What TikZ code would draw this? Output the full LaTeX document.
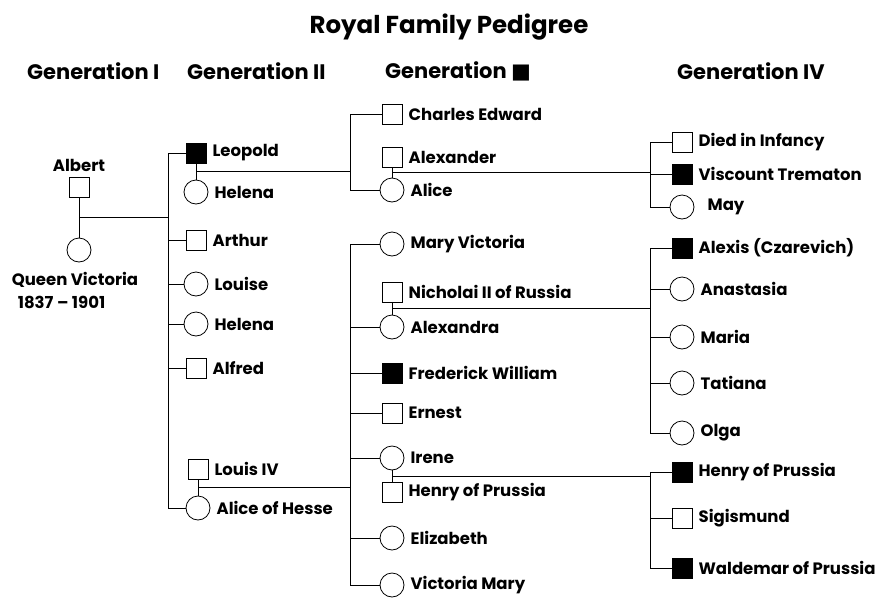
\documentclass[tikz,border=0pt]{standalone}
\usepackage{fontspec}
\setmainfont{Poppins}
\newfontfamily\symfont{DejaVu Sans}
\usetikzlibrary{positioning,shapes.geometric}
\tikzset{
    person/.style={
        draw=black,
        line width=0.8pt,
        inner sep=0pt
    },
    male/.style={person, rectangle, minimum size=20pt},
    female/.style={person, circle, minimum size=24pt},
    affected/.style={male, fill=black},
    lbl/.style={
        font=\bfseries\fontsize{16.5}{19}\selectfont,
        inner sep=1pt,
        label distance=5pt
    },
    heading/.style={
        anchor=west,
        inner sep=0pt,
        font=\bfseries\fontsize{21}{23}\selectfont
    },
    link/.style={line width=0.8pt}
}

\begin{document}
\begin{tikzpicture}[x=1pt,y=1pt]
    \useasboundingbox (0,0) rectangle (879,-598);
    % headings
    \node (title) [font=\bfseries\fontsize{24.5}{26}\selectfont] at (449,-27) {Royal Family Pedigree};
    \node (genI) [heading] at (27,-71) {Generation I};
    \node (genII) [heading] at (187,-71) {Generation II};
    \node (genIII) [heading] at (385,-71) {Generation {\symfont ■}};
    \node (genIV) [heading] at (677,-71) {Generation IV};
    % bars of the sibships
    \coordinate (barII) at (168,0);
    \coordinate (barIII) at (350,0);
    \coordinate (barIV) at (650,0);
    % generation I
    \node (albert) [male, label={[lbl, label distance=4pt]above:Albert}] at (79,-187) {};
    \node (victoria) [female, label={[lbl, label distance=9pt, xshift=-4pt, align=left, font=\bfseries\fontsize{16.5}{23}\selectfont]below:Queen Victoria\\\hspace{6pt}1837 – 1901}] at (79,-250) {};
    % generation II
    \node (leopold) [affected, label={[lbl]right:Leopold}] at (196,-153) {};
    \node (helenaw) [female, label={[lbl]right:Helena}] at (196,-192) {};
    \node (arthur) [male, label={[lbl]right:Arthur}] at (196,-240) {};
    \node (louise) [female, label={[lbl]right:Louise}] at (196,-284) {};
    \node (helena) [female, label={[lbl]right:Helena}] at (196,-324) {};
    \node (alfred) [male, label={[lbl]right:Alfred}] at (196,-368) {};
    \node (louis) [male, label={[lbl]right:Louis IV}] at (198,-469) {};
    \node (aliceh) [female, label={[lbl]right:Alice of Hesse}] at (198,-508) {};
    % generation III
    \node (charles) [male, label={[lbl]right:Charles Edward}] at (392,-114) {};
    \node (alexander) [male, label={[lbl]right:Alexander}] at (392,-157) {};
    \node (alice) [female, label={[lbl]right:Alice}] at (392,-190) {};
    \node (maryv) [female, label={[lbl]right:Mary Victoria}] at (392,-244) {};
    \node (nicholai) [male, label={[lbl]right:Nicholai II of Russia}] at (392,-292) {};
    \node (alexandra) [female, label={[lbl]right:Alexandra}] at (392,-327) {};
    \node (frederick) [affected, label={[lbl]right:Frederick William}] at (392,-373) {};
    \node (ernest) [male, label={[lbl]right:Ernest}] at (392,-413) {};
    \node (irene) [female, label={[lbl]right:Irene}] at (392,-458) {};
    \node (henry) [male, label={[lbl]right:Henry of Prussia}] at (392,-492) {};
    \node (elizabeth) [female, label={[lbl]right:Elizabeth}] at (392,-538) {};
    \node (victoriam) [female, label={[lbl]right:Victoria Mary}] at (392,-585) {};
    % generation IV
    \node (died) [male, label={[lbl]right:Died in Infancy}] at (682,-142) {};
    \node (viscount) [affected, label={[lbl]right:Viscount Trematon}] at (682,-174) {};
    \node (may) [female, label={[lbl, label distance=12pt]right:May}] at (682,-207) {};
    \node (alexis) [affected, label={[lbl]right:Alexis (Czarevich)}] at (682,-248) {};
    \node (anastasia) [female, label={[lbl]right:Anastasia}] at (682,-289) {};
    \node (maria) [female, label={[lbl]right:Maria}] at (682,-337) {};
    \node (tatiana) [female, label={[lbl]right:Tatiana}] at (682,-383) {};
    \node (olga) [female, label={[lbl]right:Olga}] at (682,-433) {};
    \node (henryp) [affected, label={[lbl]right:Henry of Prussia}] at (682,-472) {};
    \node (sigismund) [male, label={[lbl]right:Sigismund}] at (682,-518) {};
    \node (waldemar) [affected, label={[lbl]right:Waldemar of Prussia}] at (682,-568) {};
    % marriages
    \draw [link] (albert) -- coordinate (mI) (victoria);
    \draw [link] (leopold) -- coordinate (mII) (helenaw);
    \draw [link] (louis) -- coordinate (mIII) (aliceh);
    \draw [link] (alexander) -- coordinate (mIV) (alice);
    \draw [link] (nicholai) -- coordinate (mV) (alexandra);
    \draw [link] (irene) -- coordinate (mVI) (henry);
    \draw [link] (mI) -- (barII |- mI);
    \draw [link] (mII) -- (barIII |- mII);
    \draw [link] (mIII) -- (barIII |- mIII);
    \draw [link] (mIV) -- (barIV |- mIV);
    \draw [link] (mV) -- (barIV |- mV);
    \draw [link] (mVI) -- (barIV |- mVI);
    % sibships
    \draw [link] (barII |- leopold) -- (barII |- aliceh);
    \foreach \kid in {leopold,arthur,louise,helena,alfred,aliceh}
        \draw [link] (barII |- \kid) -- (\kid);
    \draw [link] (barIII |- charles) -- (barIII |- alice);
    \foreach \kid in {charles,alice}
        \draw [link] (barIII |- \kid) -- (\kid);
    \draw [link] (barIII |- maryv) -- (barIII |- victoriam);
    \foreach \kid in {maryv,alexandra,frederick,ernest,irene,elizabeth,victoriam}
        \draw [link] (barIII |- \kid) -- (\kid);
    \draw [link] (barIV |- died) -- (barIV |- may);
    \foreach \kid in {died,viscount,may}
        \draw [link] (barIV |- \kid) -- (\kid);
    \draw [link] (barIV |- alexis) -- (barIV |- olga);
    \foreach \kid in {alexis,anastasia,maria,tatiana,olga}
        \draw [link] (barIV |- \kid) -- (\kid);
    \draw [link] (barIV |- henryp) -- (barIV |- waldemar);
    \foreach \kid in {henryp,sigismund,waldemar}
        \draw [link] (barIV |- \kid) -- (\kid);
\end{tikzpicture}
\end{document}
